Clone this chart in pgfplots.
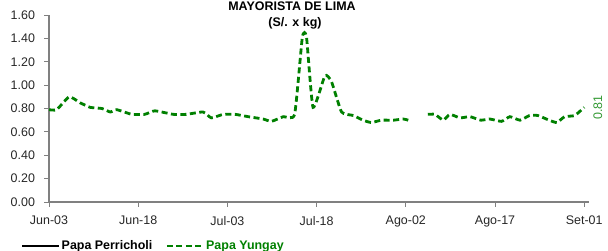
\documentclass[border=0pt]{standalone}
\usepackage{fontspec}
\setmainfont{Liberation Sans}
\usepackage{pgfplots}
\pgfplotsset{compat=1.18}
\definecolor{yg}{HTML}{008000}
\definecolor{lbl}{HTML}{339933}
\definecolor{axgray}{HTML}{808080}
\pgfplotstableread{
x y
0 0.79
1.3 0.79
3.4 0.90
5.2 0.85
6.9 0.81
8.9 0.80
10.3 0.77
11.4 0.79
13.9 0.75
16.1 0.75
17.8 0.78
20.9 0.75
23.1 0.75
25.9 0.77
27.3 0.72
29.3 0.75
31.3 0.75
33.5 0.73
36.0 0.71
37.4 0.69
39.4 0.73
41.3 0.75
42.6 1.41
43.3 1.41
44.4 0.81
46.4 1.08
47.5 1.03
49.2 0.77
51.2 0.74
52.8 0.70
54.2 0.68
55.9 0.70
57.9 0.70
59.6 0.71
60.4 0.70
61.5 nan
63.7 0.75
64.9 0.75
66.3 0.70
67.4 0.75
69.1 0.72
70.8 0.73
72.6 0.70
74.1 0.71
76.1 0.69
77.5 0.73
79.2 0.70
80.8 0.74
82.2 0.74
84.1 0.70
85.4 0.68
86.7 0.73
88.4 0.74
90.0 0.81
}\yungay
\begin{document}
\begin{tikzpicture}
\path[use as bounding box] (-49bp,-49bp) rectangle (559bp,202bp);
\begin{axis}[
  scale only axis, width=540bp, height=187bp,
  xmin=0, xmax=90.8, ymin=0, ymax=1.6,
  axis x line*=bottom, axis y line*=left,
  axis line style={axgray, line width=1.2bp, -},
  xtick={0,15,30,45,60,75,90},
  xticklabels={Jun-03,Jun-18,Jul-03,Jul-18,Ago-02,Ago-17,Set-01},
  ytick={0,0.2,0.4,0.6,0.8,1.0,1.2,1.4,1.6},
  tick align=outside, major tick length=4.5bp,
  tick style={axgray, line width=0.8bp},
  yticklabel style={/pgf/number format/fixed, /pgf/number format/fixed zerofill,
    /pgf/number format/precision=2, /pgf/number format/assume math mode=true, xshift=-6bp},
  every tick label/.append style={font=\fontsize{12.5}{15}\selectfont, text=black!85},
  xticklabel style={yshift=-6bp},
  unbounded coords=jump,
  clip=false,
  legend style={draw=none, fill=none, at={(0,0)}, anchor=west, xshift=-28bp, yshift=-44bp,
    legend columns=2, font=\bfseries\fontsize{12.5}{15}\selectfont,
    /tikz/every even column/.append style={column sep=12bp}, inner sep=0pt,
    nodes={inner sep=1bp}},
  legend image code/.code={\draw[#1] (0bp,0bp) -- (37bp,0bp);},
]
\addlegendimage{black, line width=2.5bp}
\addlegendentry{Papa Perricholi}
\addplot[yg, line width=2.8bp, dash pattern=on 6bp off 3.5bp, smooth, tension=0.3] table[x=x,y=y] {\yungay};
\addlegendentry{\textcolor{yg}{Papa Yungay}}
\node[rotate=90, anchor=north, text=lbl, font=\fontsize{12.5}{15}\selectfont, inner sep=0pt] at ([xshift=9bp]axis cs:90,0.81) {0.81};
\end{axis}
\node[anchor=base, font=\bfseries\fontsize{12.5}{15}\selectfont] at (243bp,191bp) {MAYORISTA DE LIMA};
\node[anchor=base, font=\bfseries\fontsize{12.5}{15}\selectfont] at (246bp,175bp) {(S/. x kg)};
\end{tikzpicture}
\end{document}
